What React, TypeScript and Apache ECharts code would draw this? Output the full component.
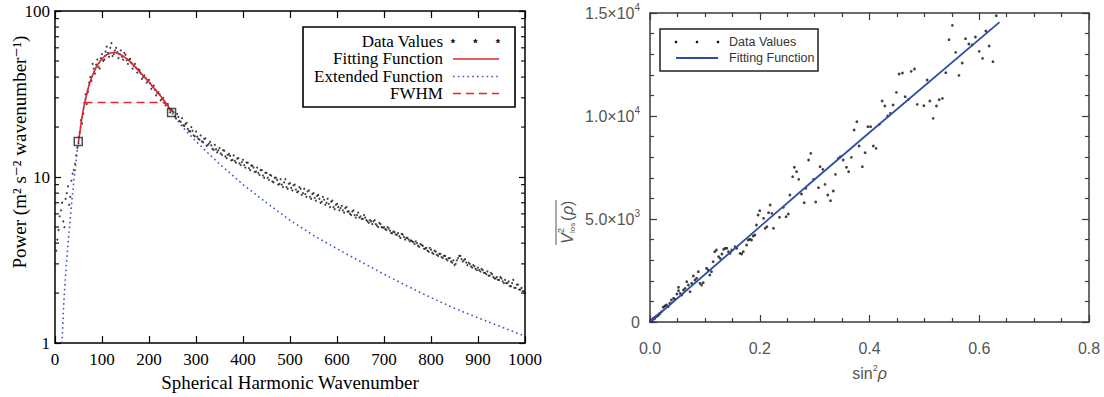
import React, { useEffect, useRef } from "react";
import * as echarts from "echarts";

// ---------- Left panel: power spectrum ----------
const wavenumberStart = 5;
const wavenumberStep = 5;
// observed power at wavenumber 5, 10, ... 1000
const powerValues = [
  4.2, 5.8, 7.0, 5.0, 8.0, 6.8, 9.5, 11.0, 13.5,
  16.0, 22.0, 24.0, 31.5, 32.5, 40.0, 48.0, 42.0, 51.0, 45.0,
  55.0, 51.0, 61.0, 53.0, 64.0, 55.0, 60.0, 52.0, 58.0, 51.0,
  54.5, 48.0, 51.5, 45.0, 48.0, 42.5, 44.0, 39.0, 41.0, 37.0,
  38.5, 34.0, 35.5, 31.0, 32.5, 29.0, 30.0, 27.0, 27.5, 24.5,
  25.0, 23.2, 24.0, 21.8, 22.6, 20.3, 21.2, 19.0, 20.0, 17.8,
  18.8, 17.0, 17.8, 16.2, 17.1, 15.6, 16.3, 14.8, 15.6, 14.1,
  15.0, 13.6, 14.4, 13.0, 13.8, 12.6, 13.5, 12.2, 13.0, 11.8,
  12.7, 11.4, 12.2, 11.0, 11.7, 10.7, 11.4, 10.3, 11.0, 9.9,
  10.6, 9.6, 10.2, 9.3, 9.9, 9.0, 9.7, 8.7, 9.7, 8.5,
  9.2, 8.3, 9.0, 8.1, 8.7, 7.8, 8.5, 7.6, 8.3, 7.4,
  8.0, 7.2, 7.8, 7.0, 7.6, 6.8, 7.4, 6.6, 7.2, 6.4,
  6.9, 6.3, 6.7, 6.1, 6.6, 6.2, 5.9, 6.3, 5.7, 6.1,
  5.8, 5.6, 5.7, 5.4, 5.5, 5.2, 5.5, 5.1, 5.3, 5.0,
  5.0, 4.8, 4.9, 4.6, 4.7, 4.5, 4.6, 4.3, 4.5, 4.2,
  4.3, 4.1, 4.1, 3.95, 4.0, 3.8, 3.9, 3.7, 3.75, 3.55,
  3.65, 3.45, 3.55, 3.35, 3.45, 3.25, 3.35, 3.15, 3.25, 3.05,
  2.95, 3.15, 3.35, 3.2, 3.15, 3.05, 3.05, 2.9, 2.95, 2.8,
  2.85, 2.7, 2.75, 2.65, 2.7, 2.55, 2.6, 2.45, 2.5, 2.4,
  2.45, 2.3, 2.3, 2.35, 2.2, 2.4, 2.15, 2.25, 2.1, 2.05,
  2.0,
];
// observed power at the in-between wavenumbers 2.5, 7.5, ... 997.5
const powerValuesHalf = [
  3.6, 4.8, 6.3, 5.4, 7.4, 8.8, 7.6, 10.5, 12.0, 15.0,
  18.5, 21.0, 28.0, 27.5, 37.0, 38.0, 45.0, 47.5, 46.0, 52.0,
  50.0, 57.0, 56.0, 60.0, 53.5, 58.0, 56.5, 55.0, 53.0, 56.0,
  50.5, 51.0, 48.5, 46.5, 45.5, 44.5, 42.0, 40.0, 39.5, 38.0,
  36.5, 35.0, 33.5, 32.0, 31.5, 29.5, 28.0, 27.5, 26.0, 25.5,
  24.5, 22.5, 23.0, 21.5, 20.5, 20.8, 19.5, 18.8, 19.0, 17.6,
  17.5, 16.8, 16.4, 17.0, 15.4, 15.9, 15.5, 14.6, 14.7, 14.5,
  13.9, 14.5, 13.3, 13.6, 13.4, 12.7, 12.5, 12.9, 12.1, 12.3,
  11.8, 12.2, 11.3, 11.7, 11.4, 10.8, 10.6, 11.0, 10.2, 10.6,
  9.9, 10.3, 9.4, 9.9, 9.6, 9.1, 9.0, 9.3, 8.7, 9.1,
  8.6, 8.9, 8.4, 8.2, 8.5, 8.0, 7.9, 8.2, 7.6, 7.9,
  7.5, 7.7, 7.4, 7.1, 7.3, 7.0, 6.9, 7.1, 6.6, 6.8,
  6.6, 6.5, 6.3, 6.5, 6.2, 6.0, 6.2, 5.9, 5.9, 5.7,
  5.6, 5.9, 5.5, 5.3, 5.4, 5.4, 5.2, 5.0, 5.2, 4.95,
  4.85, 5.0, 4.75, 4.6, 4.65, 4.5, 4.4, 4.55, 4.35, 4.3,
  4.2, 4.15, 4.05, 4.1, 3.85, 3.95, 3.85, 3.7, 3.6, 3.75,
  3.5, 3.6, 3.4, 3.45, 3.3, 3.35, 3.2, 3.25, 3.1, 3.15,
  3.0, 3.25, 3.35, 3.1, 3.2, 2.95, 3.0, 2.85, 2.9, 2.75,
  2.75, 2.8, 2.65, 2.6, 2.55, 2.65, 2.5, 2.45, 2.4, 2.5,
  2.35, 2.4, 2.3, 2.2, 2.3, 2.15, 2.25, 2.1, 2.15, 2.05,
];

// fitting function (red), wavenumber / power
const fitWavenumber = [50, 55, 60, 65, 70, 75, 80, 85, 90, 95, 100, 105, 110, 115, 120, 125, 130, 135, 140, 145, 150, 160, 170, 180, 190, 200, 210, 220, 230, 240, 248];
const fitPower = [16.4, 20.5, 25.2, 29.5, 33.8, 37.5, 41.0, 44.2, 47.0, 49.5, 51.5, 53.2, 54.5, 55.5, 56.0, 56.2, 56.0, 55.4, 54.5, 53.4, 52.2, 49.5, 46.3, 43.0, 40.2, 37.4, 34.5, 32.0, 29.4, 26.9, 24.5];

// extended function (blue dotted) outside the fitted range
const extLowWavenumber = [15, 18, 20, 25, 30, 35, 40, 45];
const extLowPower = [1.0, 1.6, 2.0, 3.2, 4.7, 6.8, 9.4, 12.6];
const extHighWavenumber = [260, 275, 300, 325, 350, 375, 400, 425, 450, 475, 500, 550, 600, 650, 700, 750, 800, 850, 900, 950, 1000];
const extHighPower = [22.0, 19.5, 16.4, 14.0, 12.0, 10.4, 9.0, 7.95, 7.0, 6.2, 5.5, 4.45, 3.7, 3.1, 2.6, 2.2, 1.88, 1.62, 1.42, 1.25, 1.1];

// FWHM
const fwhmWavenumber = [63, 236];
const fwhmPower = 28.1;
// fit-range end points (squares)
const endPointWavenumber = [49.5, 248];
const endPointPower = [16.4, 24.5];

const logMinorTicks = [2, 3, 4, 5, 6, 7, 8, 9, 20, 30, 40, 50, 60, 70, 80, 90];

// ---------- Right panel ----------
const sinSqValues = [
  0.001, 0.002, 0.003, 0.004, 0.006, 0.008, 0.009, 0.011, 0.012, 0.014, 0.015, 0.017, 0.018, 0.021, 0.024, 0.027, 0.030, 0.033, 0.036, 0.039,
  0.043, 0.046, 0.049, 0.052, 0.052, 0.055, 0.058, 0.061, 0.064, 0.067, 0.070, 0.073, 0.076, 0.079, 0.082, 0.085, 0.088, 0.091, 0.094, 0.097,
  0.103, 0.106, 0.109, 0.112, 0.115, 0.118, 0.121, 0.125, 0.128, 0.131, 0.134, 0.137, 0.140, 0.143, 0.146, 0.149, 0.155, 0.158, 0.164, 0.167,
  0.170, 0.176, 0.179, 0.182, 0.185, 0.188, 0.191, 0.194, 0.197, 0.200, 0.207, 0.210, 0.213, 0.216, 0.219, 0.222, 0.225,
  0.236, 0.243, 0.248, 0.252, 0.255, 0.260, 0.263, 0.267, 0.271, 0.276, 0.281, 0.284, 0.289, 0.293, 0.298, 0.302, 0.307, 0.310, 0.315, 0.319,
  0.324, 0.329, 0.334, 0.338, 0.343, 0.347, 0.352, 0.358, 0.362, 0.367, 0.372, 0.377, 0.381, 0.387, 0.392, 0.397, 0.402, 0.407, 0.412, 0.418,
  0.423, 0.428, 0.433, 0.438, 0.443, 0.449,
  0.454, 0.460, 0.465, 0.471, 0.476, 0.482, 0.487, 0.499, 0.505, 0.510, 0.516, 0.522, 0.527, 0.533, 0.539, 0.545, 0.551, 0.557, 0.563, 0.569,
  0.575, 0.581, 0.587, 0.593, 0.600, 0.606, 0.612, 0.618, 0.625, 0.631,
];
const vlosValues = [
  20, -40, 97, 60, 178, 150, 227, 250, 291, 300, 340, 380, 421, 502, 712, 777, 825, 744, 906, 1068,
  1149, 1100, 1359, 1683, 1521, 1391, 1311, 1553, 1634, 1958, 1796, 1472, 1877, 2233, 2039, 2120, 2443, 1877, 1796, 1909,
  2605, 2524, 2281, 2443, 2929, 3414, 3495, 3171, 3090, 3301, 3527, 3576, 3576, 3414, 3333, 3495, 3657, 3576, 3333, 3301,
  3414, 3738, 3980, 4013, 3980, 4174, 4223, 4708, 5194, 5404, 5032, 4547, 4627, 5307, 5679, 5274, 4547,
  5081, 5566, 5113, 5242, 6165, 7054, 7508, 7297, 6925, 6213, 5792, 6488, 7863, 8187, 6925, 5825, 6521, 7540, 7410, 6682,
  6165, 5890, 6359, 7168, 7944, 8025, 7863, 7508, 7297, 7993, 9320, 9724, 8543, 7540, 8219, 9481, 9481, 8543, 8430, 9595,
  10727, 10485, 9999, 10129, 10533, 11148,
  12038, 12086, 10938, 10808, 12167, 12281, 10566, 10501, 11747, 10727, 9886, 10485, 10792, 10857, 12103, 13704, 14400, 13090, 11973, 12572,
  13753, 13494, 13446, 13834, 13138, 12798, 14125, 13397, 12636, 14869,
];
const fitSinSq = [0, 0.2, 0.4, 0.637];
const fitVlos = [0, 4620, 9200, 14560];

const SERIF = '"Liberation Serif", "DejaVu Serif", serif';
const SANS = '"Liberation Sans", Arial, sans-serif';
const RED = "#e3262b";
const BLUE_DOT = "#3d55c8";
const BLUE_FIT = "#2f4ea8";
const GREY = "#555";

function buildOption(): any {
  const dataPairs = [
    ...powerValues.map((v, i) => [wavenumberStart + wavenumberStep * i, v]),
    ...powerValuesHalf.map((v, i) => [wavenumberStart / 2 + wavenumberStep * i, v]),
  ];
  const fitPairs = fitWavenumber.map((x, i) => [x, fitPower[i]]);
  const extPairs = [
    ...extLowWavenumber.map((x, i) => [x, extLowPower[i]]),
    ...fitPairs,
    ...extHighWavenumber.map((x, i) => [x, extHighPower[i]]),
  ];
  const rightPairs = sinSqValues.map((x, i) => [x, vlosValues[i]]);
  const rightFit = fitSinSq.map((x, i) => [x, fitVlos[i]]);

  const leftAxisLine = { show: true, onZero: false, lineStyle: { color: "#000", width: 1.5 } };
  const rightAxisLine = { show: true, onZero: false, lineStyle: { color: "#3a3a3a", width: 1.5 } };

  const supFmt = (v: number) => {
    if (v === 0) return "{a|0}";
    const e = Math.floor(Math.log10(v) + 1e-9);
    const m = v / Math.pow(10, e);
    return `{a|${m.toFixed(1)}×10}{s|${e}}`;
  };
  const supRich = {
    a: { fontFamily: SANS, fontSize: 16, color: GREY, lineHeight: 22 },
    s: { fontFamily: SANS, fontSize: 10, color: GREY, lineHeight: 10, verticalAlign: "top" },
  };

  const legendTextStyle = (y: number, text: string) => ({
    type: "text",
    z: 101,
    x: 443,
    y,
    style: {
      text,
      font: `17px ${SERIF}`,
      fill: "#000",
      align: "right",
      verticalAlign: "middle",
      textAlign: "right",
      textVerticalAlign: "middle",
    },
  });

  return {
    animation: false,
    backgroundColor: "#fff",
    grid: [
      { left: 55, top: 11, width: 470, height: 333 },
      { left: 650, top: 13, width: 439, height: 309 },
    ],
    xAxis: [
      {
        gridIndex: 0, type: "value", min: 0, max: 1000, interval: 100,
        axisLine: leftAxisLine,
        axisTick: { inside: true, length: 7, lineStyle: { color: "#000", width: 1.2 } },
        axisLabel: { fontFamily: SERIF, fontSize: 17, color: "#000", margin: 8, formatter: (v: number) => String(v) },
        splitLine: { show: false },
        name: "Spherical Harmonic Wavenumber", nameLocation: "middle", nameGap: 27,
        nameTextStyle: { fontFamily: SERIF, fontSize: 19, color: "#000" },
      },
      {
        gridIndex: 0, type: "value", position: "top", min: 0, max: 1000, interval: 100,
        axisLine: leftAxisLine,
        axisTick: { inside: true, length: 7, lineStyle: { color: "#000", width: 1.2 } },
        axisLabel: { show: false }, splitLine: { show: false },
      },
      {
        gridIndex: 1, type: "value", min: 0, max: 0.8, interval: 0.2,
        axisLine: rightAxisLine,
        axisTick: { inside: true, length: 7, lineStyle: { color: "#3a3a3a", width: 1.2 } },
        minorTick: { show: true, splitNumber: 4, length: 4, lineStyle: { color: "#3a3a3a", width: 1.2 } },
        axisLabel: { fontFamily: SANS, fontSize: 16, color: GREY, margin: 18, formatter: (v: number) => v.toFixed(1) },
        splitLine: { show: false },
        name: "{a|sin}{s|2}{r|ρ}", nameLocation: "middle", nameGap: 41,
        nameTextStyle: {
          rich: {
            a: { fontFamily: SANS, fontSize: 16, color: GREY, lineHeight: 20 },
            s: { fontFamily: SANS, fontSize: 9, color: GREY, lineHeight: 9, verticalAlign: "top" },
            r: { fontFamily: SANS, fontSize: 16, color: GREY, fontStyle: "italic", lineHeight: 20 },
          },
        },
      },
      {
        gridIndex: 1, type: "value", position: "top", min: 0, max: 0.8, interval: 0.2,
        axisLine: rightAxisLine,
        axisTick: { inside: true, length: 7, lineStyle: { color: "#3a3a3a", width: 1.2 } },
        minorTick: { show: true, splitNumber: 4, length: 4, lineStyle: { color: "#3a3a3a", width: 1.2 } },
        axisLabel: { show: false }, splitLine: { show: false },
      },
    ],
    yAxis: [
      {
        gridIndex: 0, type: "log", logBase: 10, min: 1, max: 100,
        axisLine: leftAxisLine,
        axisTick: { inside: true, length: 6, lineStyle: { color: "#000", width: 1.2 } },
        axisLabel: { fontFamily: SERIF, fontSize: 17, color: "#000", margin: 5 },
        splitLine: { show: false },
      },
      {
        gridIndex: 0, type: "log", logBase: 10, min: 1, max: 100, position: "right",
        axisLine: leftAxisLine,
        axisTick: { inside: true, length: 6, lineStyle: { color: "#000", width: 1.2 } },
        axisLabel: { show: false }, splitLine: { show: false },
      },
      {
        gridIndex: 1, type: "value", min: 0, max: 15000, interval: 5000,
        axisLine: rightAxisLine,
        axisTick: { inside: true, length: 7, lineStyle: { color: "#3a3a3a", width: 1.2 } },
        minorTick: { show: true, splitNumber: 5, length: 4, lineStyle: { color: "#3a3a3a", width: 1.2 } },
        axisLabel: { margin: 10, formatter: supFmt, rich: supRich },
        splitLine: { show: false },
      },
      {
        gridIndex: 1, type: "value", min: 0, max: 15000, interval: 5000, position: "right",
        axisLine: rightAxisLine,
        axisTick: { inside: true, length: 7, lineStyle: { color: "#3a3a3a", width: 1.2 } },
        minorTick: { show: true, splitNumber: 5, length: 4, lineStyle: { color: "#3a3a3a", width: 1.2 } },
        axisLabel: { show: false }, splitLine: { show: false },
      },
    ],
    series: [
      {
        name: "Data Values", type: "scatter", xAxisIndex: 0, yAxisIndex: 0,
        data: dataPairs, symbol: "circle", symbolSize: 2,
        itemStyle: { color: "#111" }, z: 2,
      },
      {
        name: "Extended Function", type: "line", xAxisIndex: 0, yAxisIndex: 0,
        data: extPairs, symbol: "none", smooth: false,
        lineStyle: { color: BLUE_DOT, width: 1.6, type: [1.6, 3.2] }, z: 3,
      },
      {
        name: "Fitting Function", type: "line", xAxisIndex: 0, yAxisIndex: 0,
        data: fitPairs, symbol: "none", smooth: true,
        lineStyle: { color: RED, width: 1.6 }, z: 4,
      },
      {
        name: "FWHM", type: "line", xAxisIndex: 0, yAxisIndex: 0,
        data: fwhmWavenumber.map((x) => [x, fwhmPower]), symbol: "none",
        lineStyle: { color: RED, width: 1.6, type: [8, 5] }, z: 4,
      },
      {
        name: "Fit range", type: "scatter", xAxisIndex: 0, yAxisIndex: 0,
        data: endPointWavenumber.map((x, i) => [x, endPointPower[i]]),
        symbol: "rect", symbolSize: 8,
        itemStyle: { color: "rgba(0,0,0,0)", borderColor: "#222", borderWidth: 1.5 }, z: 5,
      },
      {
        name: "log minor ticks", type: "custom", xAxisIndex: 0, yAxisIndex: 0, silent: true,
        clip: false,
        data: logMinorTicks.map((v) => [0, v]),
        encode: { x: 0, y: 1 },
        renderItem: (_params: any, api: any) => {
          const v = api.value(1);
          const l = api.coord([0, v]);
          const r = api.coord([1000, v]);
          return {
            type: "group",
            children: [
              { type: "line", shape: { x1: l[0], y1: l[1], x2: l[0] + 4, y2: l[1] }, style: { stroke: "#000", lineWidth: 1.1 } },
              { type: "line", shape: { x1: r[0], y1: r[1], x2: r[0] - 4, y2: r[1] }, style: { stroke: "#000", lineWidth: 1.1 } },
            ],
          };
        },
        z: 6,
      },
      {
        name: "Data Values (right)", type: "scatter", xAxisIndex: 2, yAxisIndex: 2,
        data: rightPairs, symbol: "circle", symbolSize: 2.8,
        itemStyle: { color: "#111" }, z: 2,
      },
      {
        name: "Fitting Function (right)", type: "line", xAxisIndex: 2, yAxisIndex: 2,
        data: rightFit, symbol: "none", smooth: true,
        lineStyle: { color: BLUE_FIT, width: 1.8 }, z: 3,
      },
    ],
    graphic: [
      // left y-axis title
      {
        type: "text", x: 19, y: 152, rotation: Math.PI / 2,
        style: {
          text: "Power (m² s⁻² wavenumber⁻¹)", font: `19px ${SERIF}`, fill: "#000",
          align: "center", verticalAlign: "middle", textAlign: "center", textVerticalAlign: "middle",
        },
      },
      // left legend
      {
        type: "rect", z: 100, shape: { x: 303, y: 27, width: 212, height: 80 },
        style: { fill: "#fff", stroke: "#000", lineWidth: 1.6 },
      },
      legendTextStyle(41, "Data Values"),
      legendTextStyle(58.5, "Fitting Function"),
      legendTextStyle(76, "Extended Function"),
      legendTextStyle(93.5, "FWHM"),
      ...[453, 475.5, 498].map((x) => ({
        type: "text", z: 101, x, y: 43,
        style: {
          text: "*", font: `bold 11px ${SANS}`, fill: "#000",
          align: "center", verticalAlign: "middle", textAlign: "center", textVerticalAlign: "middle",
        },
      })),
      { type: "line", z: 101, shape: { x1: 453, y1: 59, x2: 499, y2: 59 }, style: { stroke: RED, lineWidth: 1.6 } },
      { type: "line", z: 101, shape: { x1: 453, y1: 76.5, x2: 499, y2: 76.5 }, style: { stroke: BLUE_DOT, lineWidth: 1.6, lineDash: [1.6, 3.2] } },
      { type: "line", z: 101, shape: { x1: 453, y1: 93.5, x2: 499, y2: 93.5 }, style: { stroke: RED, lineWidth: 1.6, lineDash: [8, 5] } },
      // right y-axis title  (overline V^2_los(rho))
      {
        type: "group", x: 567, y: 218, rotation: Math.PI / 2,
        children: [
          { type: "text", x: -26, y: 0, style: { text: "V", font: `italic 16px ${SANS}`, fill: GREY, verticalAlign: "middle", textVerticalAlign: "middle" } },
          { type: "text", x: -15, y: -6, style: { text: "2", font: `9px ${SANS}`, fill: GREY, verticalAlign: "middle", textVerticalAlign: "middle" } },
          { type: "text", x: -15, y: 5, style: { text: "los", font: `8px ${SANS}`, fill: GREY, verticalAlign: "middle", textVerticalAlign: "middle" } },
          { type: "text", x: -3, y: 0, style: { text: "(", font: `16px ${SANS}`, fill: GREY, verticalAlign: "middle", textVerticalAlign: "middle" } },
          { type: "text", x: 3, y: 0, style: { text: "ρ", font: `italic 16px ${SANS}`, fill: GREY, verticalAlign: "middle", textVerticalAlign: "middle" } },
          { type: "text", x: 12, y: 0, style: { text: ")", font: `16px ${SANS}`, fill: GREY, verticalAlign: "middle", textVerticalAlign: "middle" } },
          { type: "line", shape: { x1: -27, y1: -11, x2: 18, y2: -11 }, style: { stroke: GREY, lineWidth: 1 } },
        ],
      },
      // right legend
      {
        type: "rect", z: 100, shape: { x: 660, y: 29, width: 158, height: 42 },
        style: { fill: "#fff", stroke: "#222", lineWidth: 1.5 },
      },
      ...[676, 697, 718].map((x) => ({
        type: "circle", z: 101, shape: { cx: x, cy: 42, r: 1.3 }, style: { fill: "#111" },
      })),
      { type: "line", z: 101, shape: { x1: 676, y1: 58, x2: 718, y2: 58 }, style: { stroke: BLUE_FIT, lineWidth: 1.8 } },
      {
        type: "text", z: 101, x: 729, y: 42,
        style: { text: "Data Values", font: `12.5px ${SANS}`, fill: "#333", verticalAlign: "middle", textVerticalAlign: "middle" },
      },
      {
        type: "text", z: 101, x: 729, y: 58,
        style: { text: "Fitting Function", font: `12.5px ${SANS}`, fill: "#333", verticalAlign: "middle", textVerticalAlign: "middle" },
      },
    ],
  };
}

export default function App() {
  const ref = useRef<HTMLDivElement>(null);
  useEffect(() => {
    if (!ref.current) return;
    const chart = echarts.init(ref.current, undefined, { renderer: "svg" });
    chart.setOption(buildOption());
    return () => chart.dispose();
  }, []);
  return (
    <div
      ref={ref}
      style={{ position: "fixed", left: 0, top: 0, width: 1104, height: 397, background: "#fff" }}
    />
  );
}
